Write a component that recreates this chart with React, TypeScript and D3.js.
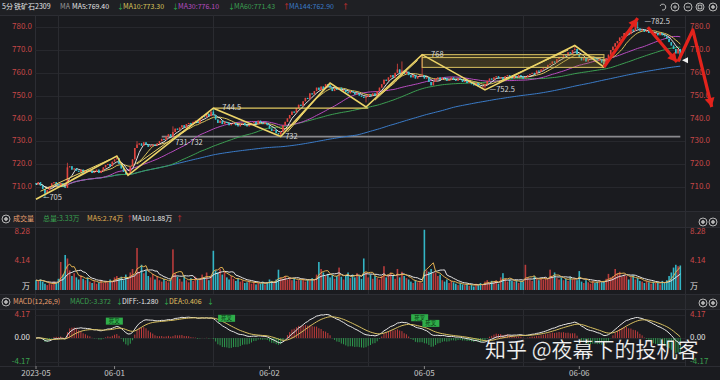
import React from 'react';
import * as d3 from 'd3';

// ---------- data ----------
const firstOpen = 711.5;
const closes: number[] = [
  711, 712, 710.5, 709, 707, 708.5, 710, 711.5, 712, 711, 710.5, 711.5, 710, 709.5,
  718.5, 719, 717.5, 718, 717, 716.5, 717.5, 716, 717,
  716.5, 717, 716, 716.5, 717.5, 716, 717,
  718.5, 719.5, 720, 719, 721, 722, 722.5,
  720, 718, 716.5, 715.5, 716,
  719, 722, 727, 728.5, 729,
  728, 729.5, 728.5, 727.5, 728, 728.5, 728, 729, 730,
  731, 730.5, 732, 733, 732, 734, 735.5,
  735, 736, 737, 736, 737.5, 738, 737.5,
  738.5, 739, 738, 740, 741, 740.5, 742, 741, 743, 741.5,
  739.5, 738, 739, 737.5, 738.5, 738, 737, 737.5, 738, 737, 736.5, 737.5, 738, 737, 736.5, 737,
  738, 738.5, 737.5, 739, 738, 737.5, 738, 737, 735.5,
  734.5, 735, 733.5, 733, 734,
  737, 738.5, 740, 741.5, 743, 742.5, 744.5, 746, 745.5, 747.5, 749, 748.5, 751,
  750.5, 752, 753.5, 752.5, 754, 753, 755, 754.5, 753.5,
  752, 753, 752.5, 753.5, 752, 752.5, 751.5,
  751, 752, 751.5, 750.5, 751, 750, 749.5, 749, 749.5,
  750.5, 750, 751, 750, 752, 753.5, 755, 757,
  756.5, 758, 759, 758, 760, 761.5, 760,
  761, 759.5, 760.5, 759, 758, 759, 757.5, 758.5, 759, 759,
  757.5, 758, 756, 754.5, 756, 757.5, 758, 757,
  758, 757.5, 756.5, 757, 758, 757, 756.5, 757.5, 757,
  756, 756.5, 755.5, 756, 755, 754.5, 755.5, 754, 753.5, 754, 755,
  756.5, 757.5, 757, 758, 758.5, 757.5, 758, 757, 758.5, 759, 758,
  757.5, 758.5, 758, 759, 758.5, 757.5, 758, 759, 759.5,
  760, 759.5, 761, 760.5, 761.5, 762, 762.5,
  763.5, 764, 765, 764.5, 766, 767,
  766.5, 768, 767.5, 769, 768.5, 770, 770.5,
  768, 767, 765.5, 766.5, 765, 766, 766.5,
  767, 766, 765.5, 766, 764.5, 764,
  766.5, 768, 770, 771.5, 773, 774, 775.5,
  776, 777.5, 778, 777, 779, 778.5, 780, 779.5, 778.5,
  779, 778, 778.5, 777.5, 778, 777, 777.5, 776.5,
  777.5, 776.5, 776, 775, 773.5,
  772, 770.5, 768.5, 770.5, 765.5,
];

const volumes: number[] = [
  1.4, 1.3, 1.5, 1.2, 0.9, 0.7, 1.0, 0.8, 1.2, 1.0,
  1.6, 4.0, 2.2, 5.0, 4.5, 2.8, 2.0,
  2.4, 1.8, 1.5, 2.1, 1.6, 1.4, 1.8, 1.2,
  1.0, 1.3, 0.9, 1.1, 1.4, 1.0,
  1.3, 1.1, 1.5, 1.3, 1.8, 2.0,
  1.7, 1.9, 1.4, 2.2, 1.6,
  2.5, 3.0, 2.0, 6.0, 2.6,
  3.6, 2.4, 2.8, 2.0,
  1.8, 2.3, 1.5, 2.0, 1.4, 1.2, 1.6, 1.3, 1.1, 1.5,
  5.8, 2.4, 1.9,
  1.6, 1.2, 2.0, 1.4, 1.1, 1.7, 1.3, 1.9, 1.5,
  1.6, 2.2, 1.8, 2.5, 1.4, 2.0, 5.6,
  2.8, 2.5, 3.0, 2.2, 2.6,
  1.8, 1.5, 2.0, 1.6, 1.3, 1.7,
  1.2, 1.4, 1.0, 1.1, 1.3, 0.9, 1.2,
  0.8, 1.0, 0.9, 1.2, 0.8, 1.1, 1.5, 1.3, 1.0,
  1.5, 2.9, 1.8,
  1.6, 2.0, 1.5, 1.8, 1.4, 1.7, 1.3, 1.5,
  1.4, 1.6, 1.2, 1.5, 1.3, 1.7, 1.5,
  2.2, 4.0,
  3.0, 2.5, 2.0, 2.3,
  1.8, 2.2, 1.6, 2.0, 3.2, 1.9, 1.5,
  2.0, 2.5, 1.7, 2.2, 1.8, 2.4, 2.0, 1.6, 4.5,
  2.5, 1.8, 2.2, 1.6, 2.0, 1.7, 1.5, 2.0, 3.4,
  1.8, 2.2, 2.5, 2.0, 1.6, 3.0, 1.8,
  2.6, 2.0, 1.7, 1.5,
  1.2, 1.0, 1.4, 1.1, 1.3, 1.0,
  8.6,
  2.8, 2.6, 3.0, 2.4, 2.5, 2.0, 2.2,
  1.4, 1.2, 1.5, 1.0, 1.3, 1.1,
  0.9, 0.7, 1.0, 0.8, 0.7, 0.9, 0.6,
  0.8, 0.5, 0.9, 0.7, 1.0, 0.8,
  1.2, 1.4, 1.0, 1.3, 1.1, 1.4, 0.9,
  1.8, 2.4, 1.6, 1.2,
  1.5, 1.3, 1.2, 1.4, 1.0, 1.3, 1.2,
  3.6,
  1.8, 1.5, 1.3, 2.0, 1.6, 1.4, 1.7, 1.5,
  1.8, 1.6, 2.9, 2.0, 2.5, 1.7, 1.5,
  1.8, 1.4, 1.6, 1.3, 1.9, 1.5, 1.7, 1.4, 2.7,
  1.2, 1.0, 1.4, 1.1, 0.9, 1.3, 1.0, 1.2, 1.4, 1.1, 1.3,
  1.6, 2.3, 1.8, 2.0,
  3.0, 2.4, 2.6, 1.9, 2.2,
  2.0, 1.5, 1.8, 2.1, 1.5, 1.7, 1.3,
  1.2, 1.0, 1.3, 1.1, 0.9, 1.2, 1.0, 1.1,
  0.8, 1.3, 1.0, 1.4,
  2.0, 2.5, 3.2, 3.6, 3.4, 3.5,
];

// hand-read wick extremes [barIndex, price]
const extraHighs: [number, number][] = [[14, 720.5], [36, 723.5], [45, 730], [61, 736.5], [79, 744.5], [131, 755.5], [161, 764], [163, 765], [172, 768], [240, 772], [268, 782.5]];
const extraLows: [number, number][] = [[4, 705], [41, 715], [109, 732], [147, 747], [200, 752.5], [253, 762.5]];

// zigzag pivots [barIndex, price]
const zigzag: [number, number][] = [[0, 704.5], [36, 723.5], [41, 715], [79, 744.5], [109, 732], [131, 755.5], [147, 745], [172, 768], [200, 752.5], [240, 772], [253, 762.5]];
const twinLegs: [number, number, number, number][] = [[2, 708, 33, 722], [45, 720, 77, 742.5], [112, 734, 129, 753.5], [151, 748, 170, 765.5], [206, 756, 237, 770]];
const redArrows: [number, number][][] = [
  [[253, 762.5], [268, 784]],
  [[272.5, 780], [285.5, 764.8]],
  [[286, 765], [292.6, 778.8], [301, 745]],
];
const supportLevel = { from: 56, to: 287, price: 732 };
const resistLevel = { from: 79, to: 148, price: 744.5 };
const boxZone = { from: 172, to: 253, top: 768, mid: 766.7, bottom: 762.4 };
const priceLabels: [number, number, string][] = [
  [3, 705, '—705'], [62, 729.3, '731-732'], [83, 744.5, '744.5'], [111, 732, '732'],
  [176, 768, '768'], [202, 752.5, '—752.5'], [271, 782.3, '—782.5'],
];

const priceTicks = [710, 720, 730, 740, 750, 760, 770, 780];
const volTicks = [8.28, 4.14];
const macdTicks = [4.17, 0, -4.17];
const dateIdx = [0, 35, 104, 173, 242];
const dateText = ['2023-05', '06-01', '06-02', '06-05', '06-06'];
const gridIdx = [10, 79, 148, 217];

const titleItems: [string, string][] = [
  ['5分', '#e6e6e6'], ['铁矿石2309', '#e6e6e6'], ['MA', '#9a9a9a'], ['MA5:769.40', '#e6e6e6'], ['↓', '#2fb050'],
  ['MA10:773.30', '#d8c35a'], ['↓', '#2fb050'], ['MA30:776.10', '#b84cc0'], ['↓', '#2fb050'],
  ['MA60:771.43', '#3c9f52'], ['↑', '#e03030'], ['MA144:762.90', '#3a7bc8'], ['↑', '#e03030'],
];
const titleX = [2, 14, 60, 72, 117, 123, 172, 178, 228, 234, 283, 289, 342];
const volItems: [string, string][] = [['成交量', '#e8a070'], ['总量:3.33万', '#3aa050'], ['MA5:2.74万', '#e0b050'], ['↑', '#e03030'], ['MA10:1.88万', '#e6e6e6'], ['↑', '#e03030']];
const volX = [13, 43, 87, 126, 132, 176];
const macdItems: [string, string][] = [['MACD(12,26,9)', '#e8a070'], ['MACD:-3.372', '#3aa050'], ['↓', '#2fb050'], ['DIFF:-1.280', '#e6e6e6'], ['↓', '#2fb050'], ['DEA:0.406', '#e0c060'], ['↓', '#2fb050']];
const macdX = [13, 70, 116, 122, 163, 169, 207];
const crossTags: [number, number][] = [[32, 3.0], [82, 3.5], [168, 3.6], [173, 2.6]];

// ---------- helpers ----------
const sma = (a: number[], n: number) => a.map((_, i) => d3.mean(a.slice(Math.max(0, i - n + 1), i + 1)) as number);
const ema = (a: number[], n: number) => {
  const o: number[] = [];
  a.forEach((v, i) => o.push(i === 0 ? v : (2 * v + (n - 1) * o[i - 1]) / (n + 1)));
  return o;
};

const FONT = '"Noto Sans CJK SC", "Noto Sans", sans-serif';
const UP = '#e0453f', DN = '#37c3cf', VUP = '#b83c3c', VDN = '#33b5c5';
const L = 35, R = 685;
const MAIN = [15, 211], VOL = [227, 294], MAC = [309, 366];
const HF = 7;

function Icon({ x, y, kind }: { x: number; y: number; kind: string }) {
  const s = '#b5b5b5';
  return (
    <g transform={`translate(${x},${y})`} stroke={s} fill="none" strokeWidth={1}>
      {kind !== 'undo' && <circle r={4} />}
      {kind === 'plus' && <><line x1={-2} x2={2} y1={0} y2={0} /><line y1={-2} y2={2} x1={0} x2={0} /></>}
      {kind === 'minus' && <line x1={-2} x2={2} y1={0} y2={0} />}
      {kind === 'gear' && <circle r={1.4} fill={s} />}
      {kind === 'win' && <rect x={-1.8} y={-1.8} width={3.6} height={3.6} />}
      {kind === 'undo' && <path d="M-3,-1 A3,3 0 1 1 -1,3" />}
    </g>
  );
}

export default function App() {
  const N = closes.length;
  const opens = closes.map((c, i) => (i === 0 ? firstOpen : closes[i - 1]));
  const highs = closes.map((c, i) => Math.max(c, opens[i]));
  const lows = closes.map((c, i) => Math.min(c, opens[i]));
  extraHighs.forEach(([i, h]) => { highs[i] = Math.max(highs[i], h); });
  extraLows.forEach(([i, l]) => { lows[i] = Math.min(lows[i], l); });

  const x = d3.scaleLinear().domain([0, 287]).range([36, 680.3]);
  const y = d3.scaleLinear().domain([710, 780]).range([186.7, 27.3]);
  const yv = d3.scaleLinear().domain([0, 8.28]).range([290, 232]);
  const ym = d3.scaleLinear().domain([-4.17, 4.17]).range([361.7, 314.5]);

  const mas: [number, string][] = [[144, '#3a7bc8'], [60, '#3c9f52'], [30, '#b84cc0'], [10, '#d8c35a'], [5, '#e6e6e6']];
  const line = d3.line<number>().x((_, i) => x(i)).y((d) => y(d));
  const vline = d3.line<number>().x((_, i) => x(i)).y((d) => yv(d));
  const mline = d3.line<number>().x((_, i) => x(i)).y((d) => ym(d));

  const vols = volumes.slice(0, N);
  const e12 = ema(closes, 12), e26 = ema(closes, 26);
  const diff = closes.map((_, i) => e12[i] - e26[i]);
  const dea = ema(diff, 9);
  const hist = diff.map((d, i) => 2 * (d - dea[i]));

  const zz = d3.line<[number, number]>().x((d) => x(d[0])).y((d) => y(d[1]));

  const arrowHead = (a: [number, number], b: [number, number]) => {
    const x1 = x(a[0]), y1 = y(a[1]), x2 = x(b[0]), y2 = y(b[1]);
    const ang = Math.atan2(y2 - y1, x2 - x1);
    const len = 9, wd = 5;
    const bx = x2 - len * Math.cos(ang), by = y2 - len * Math.sin(ang);
    const px = -Math.sin(ang) * wd, py = Math.cos(ang) * wd;
    return `M${x2},${y2}L${bx + px},${by + py}L${bx - px},${by - py}Z`;
  };

  return (
    <div style={{ position: 'absolute', left: 0, top: 0 }}>
      <svg width={720} height={380} style={{ display: 'block', fontFamily: FONT }}>
        <defs>
          <clipPath id="cm"><rect x={L} y={MAIN[0]} width={R - L} height={MAIN[1] - MAIN[0]} /></clipPath>
          <clipPath id="cv"><rect x={L} y={VOL[0]} width={R - L} height={VOL[1] - VOL[0]} /></clipPath>
          <clipPath id="cc"><rect x={L} y={MAC[0]} width={R - L} height={MAC[1] - MAC[0]} /></clipPath>
        </defs>
        <rect width={720} height={380} fill="#1a1b1f" />
        {/* header bands */}
        <rect x={0} y={0} width={720} height={15} fill="#1f2024" />
        <rect x={0} y={211} width={720} height={16} fill="#202125" />
        <rect x={0} y={294} width={720} height={15} fill="#202125" />
        {[15, 211, 227, 294, 309, 366].map((v) => <line key={v} x1={0} x2={720} y1={v + 0.5} y2={v + 0.5} stroke="#2c2d33" />)}
        <line x1={L + 0.5} x2={L + 0.5} y1={15} y2={366} stroke="#2c2d33" />
        <line x1={R + 0.5} x2={R + 0.5} y1={15} y2={366} stroke="#2c2d33" />

        {/* grid */}
        {priceTicks.map((p) => <line key={p} x1={L} x2={R} y1={Math.round(y(p)) + 0.5} y2={Math.round(y(p)) + 0.5} stroke="#27282d" />)}
        {gridIdx.map((i) => (
          <g key={i}>
            {[MAIN, VOL, MAC].map((r, k) => <line key={k} x1={Math.round(x(i)) + 0.5} x2={Math.round(x(i)) + 0.5} y1={r[0]} y2={r[1]} stroke="#2a2b30" />)}
          </g>
        ))}
        {macdTicks.map((t) => <line key={t} x1={L} x2={R} y1={Math.round(ym(t)) + 0.5} y2={Math.round(ym(t)) + 0.5} stroke="#25262b" />)}

        {/* title */}
        <g fontSize={HF} dominantBaseline="middle">
          {titleItems.map(([t, c], k) => <text key={k} x={titleX[k]} y={7.5} fill={c}>{t}</text>)}
        </g>
        <Icon x={663} y={7} kind="undo" />
        <Icon x={675} y={7} kind="plus" />
        <Icon x={688} y={7} kind="minus" />
        <Icon x={700} y={7} kind="win" />
        <Icon x={713} y={7} kind="gear" />

        {/* price axes */}
        <g fontSize={8} fill="#c84848">
          {priceTicks.map((p) => (
            <g key={p}>
              <text x={32} y={y(p)} textAnchor="end" dominantBaseline="middle">{p.toFixed(1)}</text>
              <text x={690} y={y(p)} dominantBaseline="middle">{p.toFixed(1)}</text>
            </g>
          ))}
        </g>

        {/* main chart */}
        <g clipPath="url(#cm)">
          <line x1={x(supportLevel.from)} x2={x(supportLevel.to)} y1={y(supportLevel.price)} y2={y(supportLevel.price)} stroke="#8a8a8e" strokeWidth={1.6} />
          {mas.map(([n, c]) => <path key={n} d={line(sma(closes, n)) || ''} fill="none" stroke={c} strokeWidth={1} />)}
          {closes.map((c, i) => {
            const up = c >= opens[i];
            const col = up ? UP : DN;
            const top = y(Math.max(c, opens[i])), bot = y(Math.min(c, opens[i]));
            return (
              <g key={i}>
                <line x1={x(i)} x2={x(i)} y1={y(highs[i])} y2={y(lows[i])} stroke={col} strokeWidth={0.8} />
                <rect x={x(i) - 0.8} y={top} width={1.6} height={Math.max(0.8, bot - top)} fill={col} />
              </g>
            );
          })}
          {/* box zone */}
          <rect x={x(boxZone.from)} y={y(boxZone.top)} width={x(boxZone.to) - x(boxZone.from)} height={y(boxZone.bottom) - y(boxZone.top)} fill="rgba(150,125,40,0.28)" stroke="#d8c060" strokeWidth={1} />
          <line x1={x(boxZone.from)} x2={x(boxZone.to)} y1={y(boxZone.mid)} y2={y(boxZone.mid)} stroke="#d8c060" strokeWidth={1} />
          <line x1={x(resistLevel.from)} x2={x(resistLevel.to)} y1={y(resistLevel.price)} y2={y(resistLevel.price)} stroke="#e0c860" strokeWidth={1.4} />
          <path d={zz(zigzag) || ''} fill="none" stroke="#ecd468" strokeWidth={1.6} />
          {twinLegs.map((s, k) => <line key={k} x1={x(s[0])} y1={y(s[1])} x2={x(s[2])} y2={y(s[3])} stroke="#ecd468" strokeWidth={1} />)}
          <g fontSize={7.5} fill="#d8d8d8" dominantBaseline="middle">
            {priceLabels.map(([i, p, t], k) => <text key={k} x={x(i)} y={y(p)}>{t}</text>)}
          </g>
        </g>
        {/* red arrows (extend over axis) */}
        {redArrows.map((pts, k) => (
          <g key={k}>
            <path d={zz(pts as [number, number][]) || ''} fill="none" stroke="#e3231c" strokeWidth={3.2} strokeLinejoin="round" />
            <path d={arrowHead(pts[pts.length - 2], pts[pts.length - 1])} fill="#e3231c" />
          </g>
        ))}
        <path d={`M${R - 3},${y(closes[N - 1])}l6,-3v6z`} fill="#f0f0f0" />

        {/* volume header + panel */}
        <Icon x={6} y={219} kind="gear" />
        <g fontSize={HF} dominantBaseline="middle">
          {volItems.map(([t, c], k) => <text key={k} x={volX[k]} y={219.5} fill={c}>{t}</text>)}
        </g>
        <Icon x={703} y={222} kind="gear" />
        <Icon x={713} y={222} kind="gear" />
        <g fontSize={8} dominantBaseline="middle">
          {volTicks.map((t) => (
            <g key={t} fill="#c84848">
              <text x={30} y={yv(t)} textAnchor="end">{t.toFixed(2)}</text>
              <text x={690} y={yv(t)}>{t.toFixed(2)}</text>
            </g>
          ))}
          <text x={30} y={287} textAnchor="end" fill="#e0e0e0">万</text>
          <text x={690} y={287} fill="#e0e0e0">万</text>
        </g>
        <g clipPath="url(#cv)">
          {vols.map((v, i) => (
            <rect key={i} x={x(i) - 0.8} y={yv(v)} width={1.6} height={yv(0) - yv(v)} fill={closes[i] >= opens[i] ? VUP : VDN} />
          ))}
          <path d={vline(sma(vols, 10)) || ''} fill="none" stroke="#e6e6e6" strokeWidth={1} />
          <path d={vline(sma(vols, 5)) || ''} fill="none" stroke="#e0b050" strokeWidth={1} />
        </g>

        {/* MACD header + panel */}
        <Icon x={6} y={302} kind="gear" />
        <g fontSize={HF} dominantBaseline="middle">
          {macdItems.map(([t, c], k) => <text key={k} x={macdX[k]} y={302.5} fill={c}>{t}</text>)}
        </g>
        <Icon x={703} y={303} kind="gear" />
        <Icon x={713} y={303} kind="gear" />
        <g fontSize={8} dominantBaseline="middle">
          {macdTicks.map((t) => {
            const c = t > 0 ? '#c84848' : t < 0 ? '#3aa050' : '#e0e0e0';
            return (
              <g key={t} fill={c}>
                <text x={30} y={ym(t)} textAnchor="end">{t.toFixed(2)}</text>
                <text x={690} y={ym(t)}>{t.toFixed(2)}</text>
              </g>
            );
          })}
        </g>
        <g clipPath="url(#cc)">
          {hist.map((h, i) => (
            <line key={i} x1={x(i)} x2={x(i)} y1={ym(0)} y2={ym(h)} stroke={h >= 0 ? '#c23c3c' : '#2e9a4e'} strokeWidth={1} />
          ))}
          <path d={mline(diff) || ''} fill="none" stroke="#e6e6e6" strokeWidth={1} />
          <path d={mline(dea) || ''} fill="none" stroke="#d8c060" strokeWidth={1} />
          {crossTags.map(([i, v], k) => (
            <g key={k}>
              <rect x={x(i) - 2} y={ym(v) - 3.5} width={17} height={7} fill="#2fae4a" />
              <text x={x(i) + 6.5} y={ym(v) + 0.3} fontSize={5.5} fill="#0b3a14" textAnchor="middle" dominantBaseline="middle">死叉</text>
            </g>
          ))}
        </g>

        {/* date axis */}
        <g fontSize={8} fill="#c8c8c8">
          {dateIdx.map((i, k) => (
            <g key={i}>
              <line x1={x(i)} x2={x(i)} y1={366} y2={369} stroke="#888" />
              <text x={x(i)} y={374} textAnchor="middle" dominantBaseline="middle">{dateText[k]}</text>
            </g>
          ))}
        </g>

        {/* watermark */}
        <text x={485} y={357} fontSize={21} fill="#ffffff" stroke="rgba(0,0,0,0.35)" strokeWidth={0.6} fontFamily='"Noto Sans CJK SC", sans-serif'>知乎 @夜幕下的投机客</text>
      </svg>
    </div>
  );
}
